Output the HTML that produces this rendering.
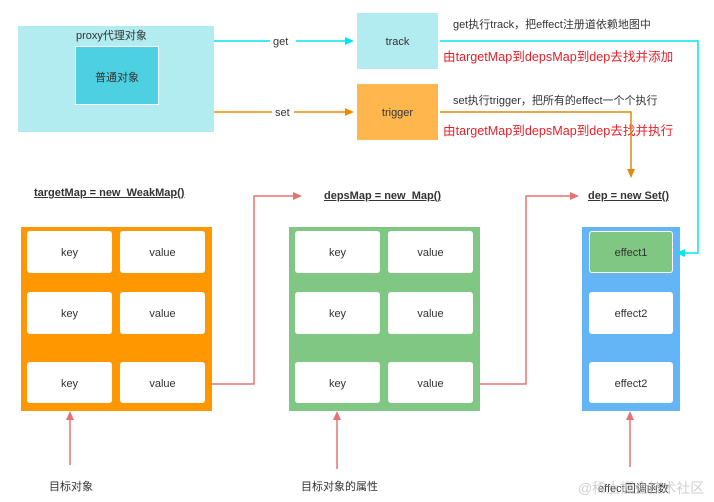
<!DOCTYPE html>
<html><head><meta charset="utf-8"><style>
body{margin:0;background:#fff;width:714px;height:502px;position:relative;overflow:hidden;font-family:"Liberation Sans","Noto Sans CJK SC",sans-serif;}
.a{position:absolute;box-sizing:border-box;}
.c{display:flex;align-items:center;justify-content:center;font-size:11px;color:#333;background:#fff;border-radius:3px;padding-top:2px;}
.t{position:absolute;white-space:nowrap;font-size:11px;color:#333;}
.r{position:absolute;white-space:nowrap;font-size:12.6px;color:#e8202a;}
.u{position:absolute;white-space:nowrap;font-size:11px;font-weight:bold;color:#333;text-decoration:underline;}
</style></head><body>
<div class="a" style="left:18px;top:26px;width:196px;height:106px;background:#b2ebf0"></div>
<div class="t" style="left:76px;top:27px;">proxy代理对象</div>
<div class="a c" style="left:75px;top:46px;width:84px;height:59px;background:#4dd0e1;border:1px solid #fff;border-radius:0;">普通对象</div>
<div class="a c" style="left:357px;top:13px;width:81px;height:56px;background:#b2ebf0;border-radius:0;">track</div>
<div class="a c" style="left:357px;top:84px;width:81px;height:56px;background:#ffb74d;border-radius:0;">trigger</div>
<div class="t" style="left:453px;top:16px;">get执行track，把effect注册道依赖地图中</div>
<div class="r" style="left:443px;top:46px;">由targetMap到depsMap到dep去找并添加</div>
<div class="t" style="left:453px;top:92px;">set执行trigger，把所有的effect一个个执行</div>
<div class="r" style="left:443px;top:120px;">由targetMap到depsMap到dep去找并执行</div>
<div class="u" style="left:34px;top:187px;">targetMap = new&nbsp; WeakMap()</div>
<div class="u" style="left:324px;top:190px;">depsMap = new&nbsp; Map()</div>
<div class="u" style="left:588px;top:190px;">dep = new Set()</div>

<div class="a" style="left:21px;top:227px;width:191px;height:184px;background:#ff9800"></div>
<div class="a c" style="left:27px;top:231px;width:85px;height:42px;">key</div>
<div class="a c" style="left:120px;top:231px;width:85px;height:42px;">value</div>
<div class="a c" style="left:27px;top:292px;width:85px;height:42px;">key</div>
<div class="a c" style="left:120px;top:292px;width:85px;height:42px;">value</div>
<div class="a c" style="left:27px;top:362px;width:85px;height:41px;">key</div>
<div class="a c" style="left:120px;top:362px;width:85px;height:41px;">value</div>

<div class="a" style="left:289px;top:227px;width:191px;height:184px;background:#81c784"></div>
<div class="a c" style="left:295px;top:231px;width:85px;height:42px;">key</div>
<div class="a c" style="left:388px;top:231px;width:85px;height:42px;">value</div>
<div class="a c" style="left:295px;top:292px;width:85px;height:42px;">key</div>
<div class="a c" style="left:388px;top:292px;width:85px;height:42px;">value</div>
<div class="a c" style="left:295px;top:362px;width:85px;height:41px;">key</div>
<div class="a c" style="left:388px;top:362px;width:85px;height:41px;">value</div>

<div class="a" style="left:582px;top:227px;width:98px;height:184px;background:#64b5f6"></div>
<div class="a c" style="left:589px;top:231px;width:84px;height:42px;background:#81c784;border:1px solid #fff;">effect1</div>
<div class="a c" style="left:589px;top:292px;width:84px;height:42px;">effect2</div>
<div class="a c" style="left:589px;top:362px;width:84px;height:41px;">effect2</div>

<div class="t" style="left:49px;top:478px;">目标对象</div>
<div class="t" style="left:301px;top:478px;">目标对象的属性</div>
<div class="t" style="left:598px;top:480px;">effect回调函数</div>
<div class="t" style="left:578px;top:478px;font-size:14px;color:#bbb;opacity:.7;">@稀土掘金技术社区</div>

<svg class="a" style="left:0;top:0" width="714" height="502">
<g fill="none" stroke-width="1.5">
<path d="M214 41H346" stroke="#00e5ee"/>
<path d="M440 41H698V253H684" stroke="#00e5ee"/>
<path d="M214 112H346" stroke="#f08c00"/>
<path d="M440 112H631V170" stroke="#e08a0a"/>
<path d="M212 384H254V196H294" stroke="#e57373"/>
<path d="M480 384H526V196H571" stroke="#e57373"/>
<path d="M70 465V418M337 469V418M630 467V418" stroke="#e57373"/>
</g>
<path d="M354 41l-9-4v8z" fill="#00e5ee"/>
<path d="M676 253l9-4v8z" fill="#00e5ee"/>
<path d="M354 112l-9-4v8z" fill="#f08c00"/>
<path d="M631 178l-4-9h8z" fill="#e08a0a"/>
<path d="M302 196l-9-4v8z" fill="#e57373"/>
<path d="M579 196l-9-4v8z" fill="#e57373"/>
<path d="M70 411l-4 9h8zM337 411l-4 9h8zM630 411l-4 9h8z" fill="#e57373"/>
<rect x="270" y="34" width="26" height="14" fill="#fff"/>
<rect x="272" y="105" width="22" height="14" fill="#fff"/>
<text x="273" y="45" font-size="11" fill="#333" font-family="Liberation Sans">get</text>
<text x="275" y="116" font-size="11" fill="#333" font-family="Liberation Sans">set</text>
</svg>
</body></html>
